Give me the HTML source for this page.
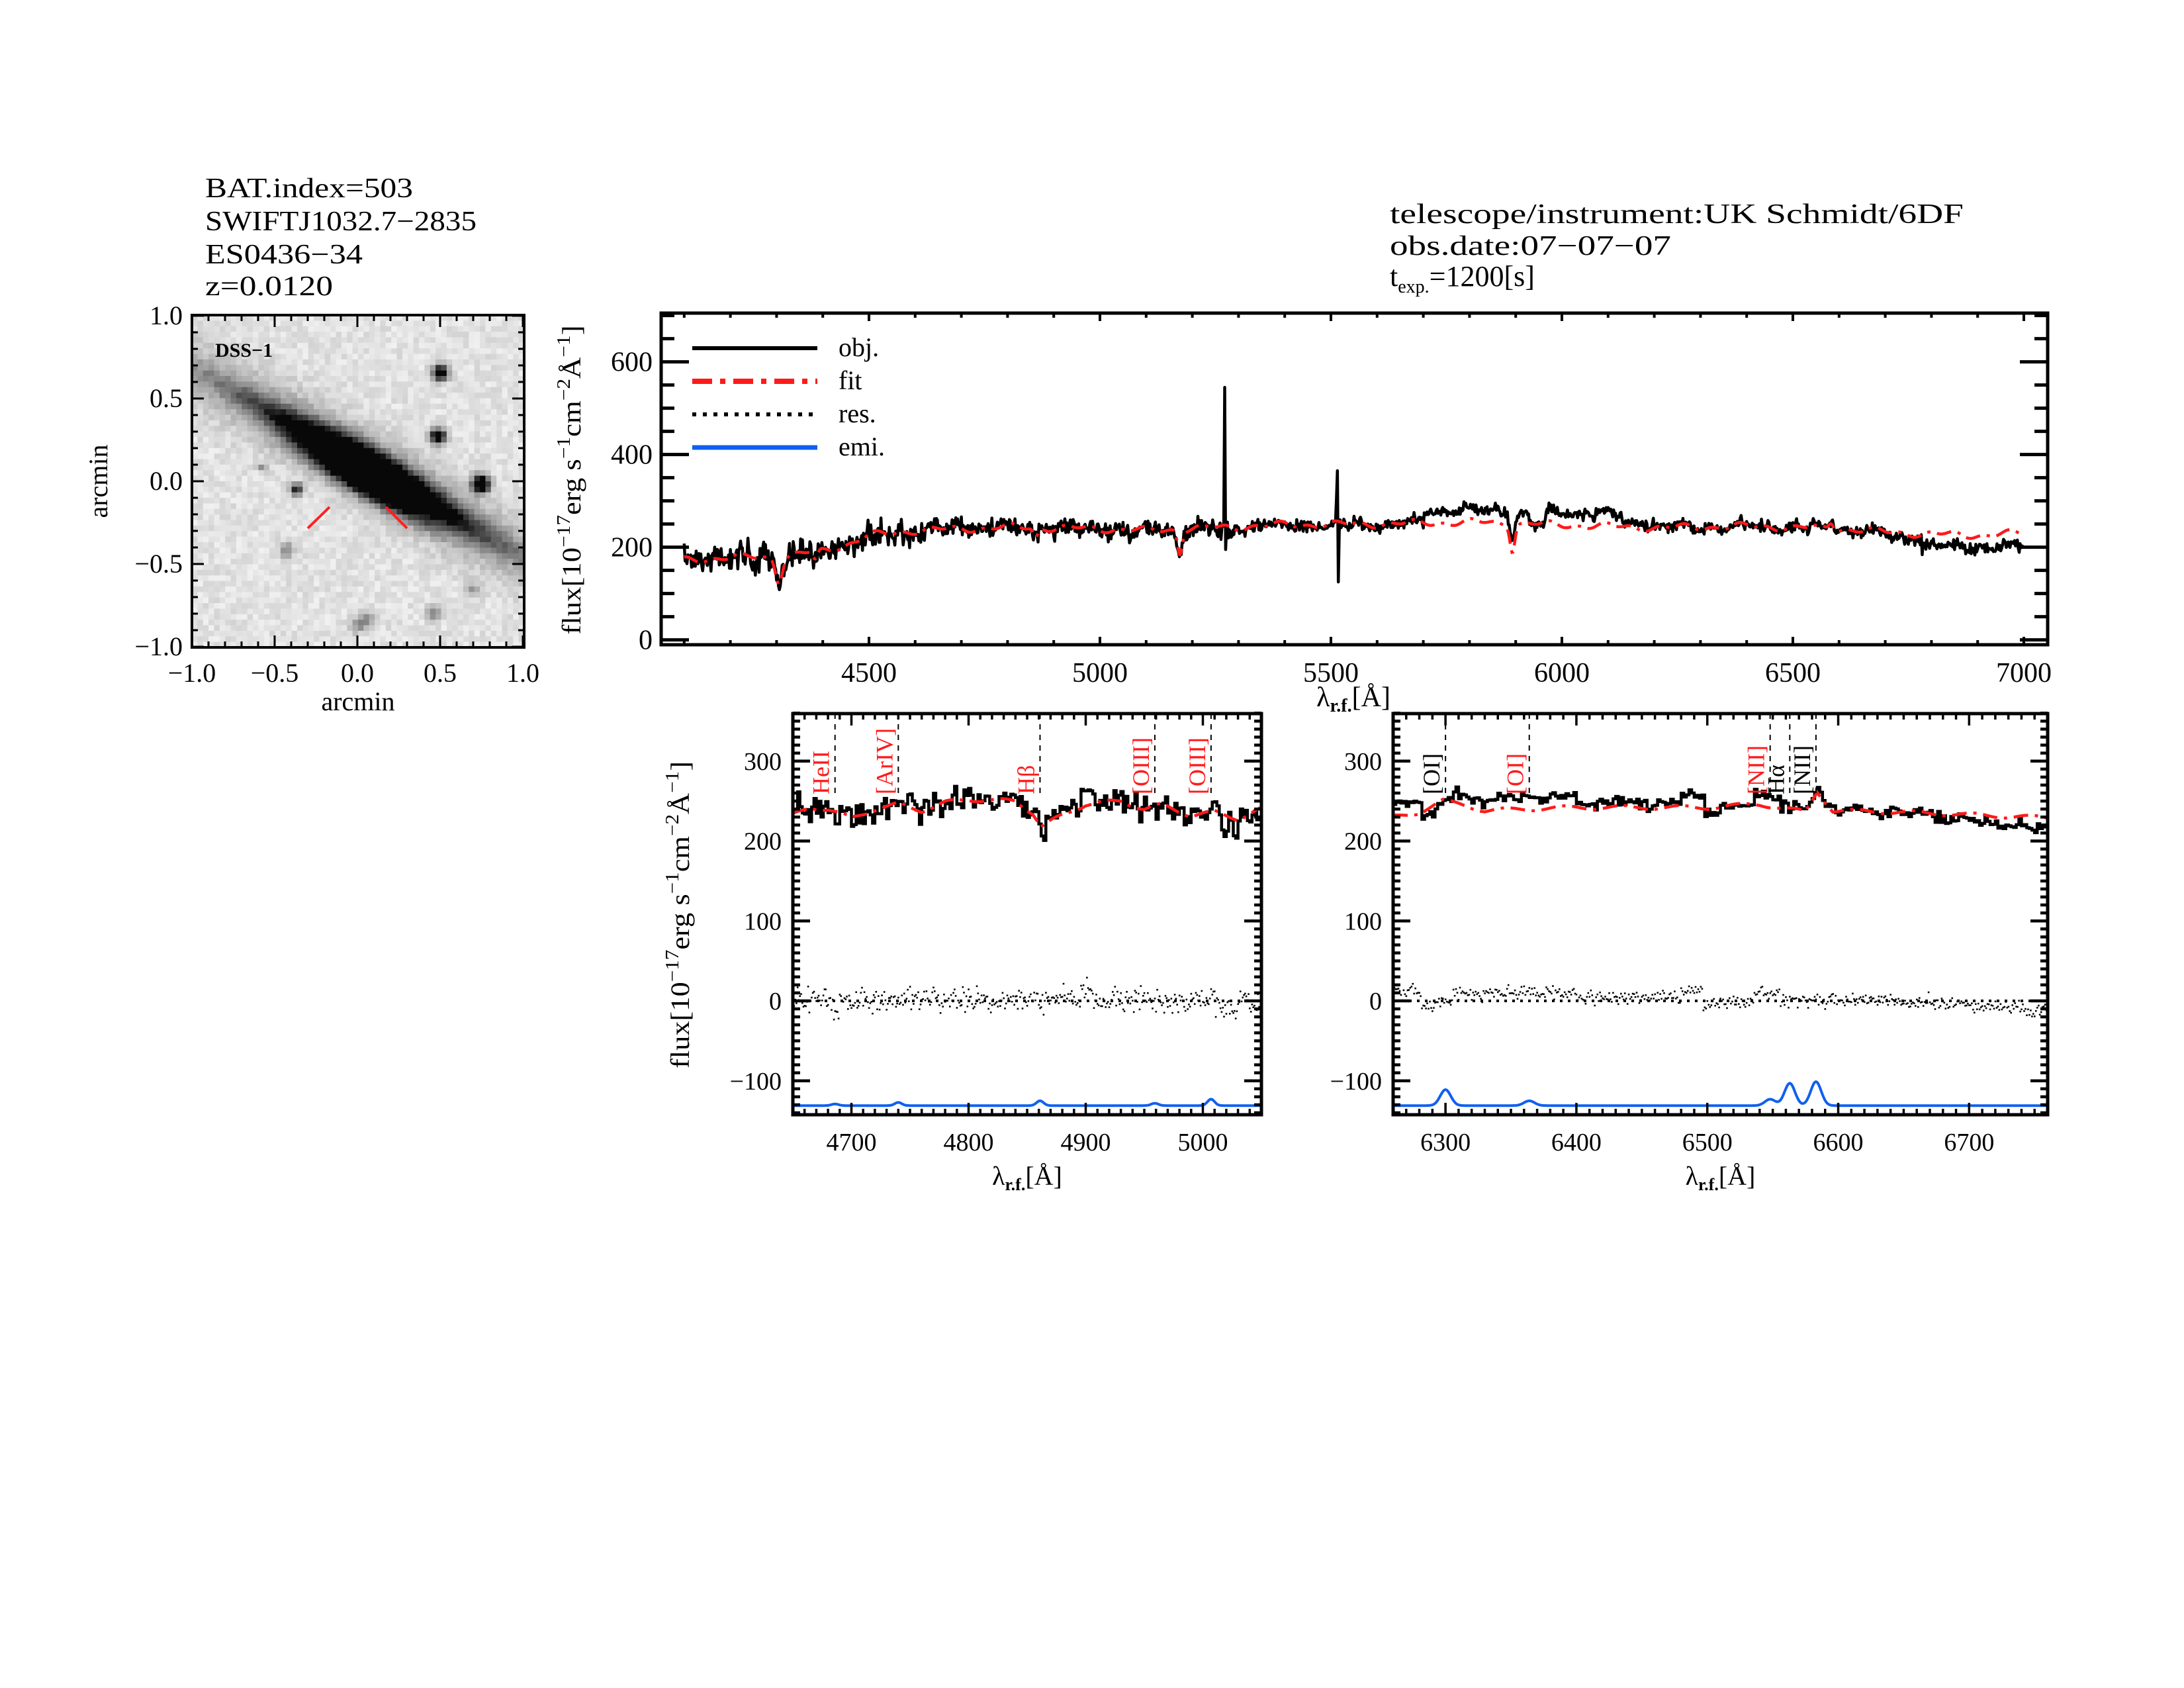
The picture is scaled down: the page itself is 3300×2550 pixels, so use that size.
<!DOCTYPE html>
<html><head><meta charset="utf-8"><style>
html,body{margin:0;padding:0;background:#fff}
svg{display:block}
text{font-family:"Liberation Serif",serif;fill:#000}
</style></head><body>
<svg id="s" xmlns="http://www.w3.org/2000/svg" width="3300" height="2550" viewBox="0 0 3300 2550">
<rect width="3300" height="2550" fill="#fff"/>
<text x="310" y="298" font-size="42" textLength="314" lengthAdjust="spacingAndGlyphs">BAT.index=503</text>
<text x="310" y="348" font-size="42" textLength="410" lengthAdjust="spacingAndGlyphs">SWIFTJ1032.7−2835</text>
<text x="310" y="398" font-size="42" textLength="238" lengthAdjust="spacingAndGlyphs">ES0436−34</text>
<text x="310" y="446" font-size="42" textLength="193" lengthAdjust="spacingAndGlyphs">z=0.0120</text>
<text x="2100" y="337" font-size="42" textLength="867" lengthAdjust="spacingAndGlyphs">telescope/instrument:UK Schmidt/6DF</text>
<text x="2100" y="385" font-size="42" textLength="425" lengthAdjust="spacingAndGlyphs">obs.date:07−07−07</text>
<text x="2100" y="432" font-size="44">t<tspan font-size="28" dy="10">exp.</tspan><tspan dy="-10">=1200[s]</tspan></text>
<g id="img"></g>
<g id="g"></g>
</svg>
<script>
(function(){
var s=0x12345;function rnd(){s|=0;s=s+0x6D2B79F5|0;var t=Math.imul(s^s>>>15,1|s);t=t+Math.imul(t^t>>>7,61|t)^t;return((t^t>>>14)>>>0)/4294967296;}
function gn(){return (rnd()+rnd()+rnd()-1.5)*1.4;}
var out=[];
function P(d,st){out.push('<path d="'+d+'" fill="none" '+st+'/>');}
function L(x1,y1,x2,y2,w,c){out.push('<line x1="'+x1+'" y1="'+y1+'" x2="'+x2+'" y2="'+y2+'" stroke="'+(c||'#000')+'" stroke-width="'+w+'"/>');}
function T(x,y,t,fs,anc,extra){out.push('<text x="'+x+'" y="'+y+'" font-size="'+fs+'" text-anchor="'+(anc||'start')+'" '+(extra||'')+'>'+t+'</text>');}
function interp(k,x){if(x<=k[0][0])return k[0][1];for(var i=1;i<k.length;i++){if(x<=k[i][0]){var a=k[i-1],b=k[i];return a[1]+(b[1]-a[1])*(x-a[0])/(b[0]-a[0]);}}return k[k.length-1][1];}
function G(x,c,w,a){return a*Math.exp(-0.5*(x-c)*(x-c)/(w*w));}
function path(pts){var d='';for(var i=0;i<pts.length;i++){d+=(i?'L':'M')+pts[i][0].toFixed(1)+' '+pts[i][1].toFixed(1);}return d;}

/* ---------- image panel ---------- */
var im=[];var X0=290,Y0=476,W=502,N=60,ps=W/N;
var ang=29.9*Math.PI/180,ca=Math.cos(ang),sa=Math.sin(ang);
var stars=[[375,87,1.3,8],[372,183,1.3,8],[437,255,1.4,9],[158,263,1.0,6],[143,355,0.4,8],[365,450,0.45,7],[422,415,0.3,8],[265,460,0.35,9],[250,470,0.3,8],[105,230,0.3,5]];
for(var i=0;i<N;i++)for(var j=0;j<N;j++){
 var px=(j+0.5)*ps,py=(i+0.5)*ps;
 var dx=px-267,dy=py-232;
 var u=dx*ca+dy*sa,v=-dx*sa+dy*ca;
 var d=0;
 d+=1.6*Math.exp(-0.5*(u*u/(75*75)+v*v/(18*18)));
 d+=0.7*Math.exp(-0.5*(u*u/(170*170)+v*v/(12*12)));
 d+=0.4*Math.exp(-0.5*(u*u/(260*260)+v*v/(32*32)));
 d+=0.7*Math.exp(-0.5*((u-10)*(u-10)/(70*70)+(v-24)*(v-24)/(12*12)));
 d-=0.45*Math.exp(-0.5*((u-30)*(u-30)/(50*50)+(v-16)*(v-16)/(5*5)));
 for(var k=0;k<stars.length;k++){var st=stars[k];var r2=(px-st[0])*(px-st[0])+(py-st[1])*(py-st[1]);d+=st[2]*Math.exp(-0.5*r2/(st[3]*st[3]));}
 if(d<0)d=0;
 var g=226-d*230+ (rnd()-0.5)*30;
 g=Math.max(8,Math.min(250,Math.round(g)));
 im.push('<rect x="'+(X0+j*ps).toFixed(2)+'" y="'+(Y0+i*ps).toFixed(2)+'" width="'+(ps+0.4).toFixed(2)+'" height="'+(ps+0.4).toFixed(2)+'" fill="rgb('+g+','+g+','+g+')"/>');
}
document.getElementById('img').innerHTML=im.join('');
L(465,798,498,766,4,'#ff2020');L(583,766,615,798,4,'#ff2020');
T(325,539,'DSS−1',30,'start','font-weight="bold"');
out.push('<rect x="290" y="476" width="502" height="502" fill="none" stroke="#000" stroke-width="4"/>');
for(var t=-1;t<=1.001;t+=0.1){var x=540+t*250,y=727-t*250;var maj=Math.abs(t*2-Math.round(t*2))<0.01;var l=maj?18:9;
 L(x,978,x,978-l,3);L(x,476,x,476+l,3);L(290,y,290+l,y,3);L(792,y,792-l,y,3);}
[-1,-0.5,0,0.5,1].forEach(function(t){var lab=(t<0?'−':'')+Math.abs(t).toFixed(1);
 T(540+t*250,1030,lab,40,'middle');T(276,727-t*250+13,lab,40,'end');});
T(541,1073,'arcmin',40,'middle');
T(162,727,'arcmin',40,'middle','transform="rotate(-90 162 727)"');

/* ---------- top spectrum ---------- */
function XT(l){return 1313+(l-4500)*0.698;} function YT(f){return 966.6-f*0.7;}
var fk=[[4100,172],[4200,178],[4300,178],[4400,192],[4450,205],[4500,225],[4600,236],[4800,243],[5000,240],[5100,236],[5200,240],[5400,248],[5600,250],[5800,254],[6000,248],[6200,242],[6400,245],[6600,240],[6700,233],[6800,228],[6900,226],[7000,230]];
function fitT(l){var f=interp(fk,l)+5*Math.sin(l/23)+4*Math.sin(l/9.3);
 f+=G(l,4305,7,-50)+G(l,5173,5,-50)+G(l,5893,5,-55)+G(l,4861,5,-20)+G(l,4384,5,-20)+G(l,6583,5,15);return f;}
var po=[],pf=[];
for(var l=4100;l<=7000;l+=2){var f=fitT(l);
 var dl=0;if(l>5700&&l<5930)dl+=25;if(l>5965&&l<6130)dl+=26;if(l>=6130&&l<6200)dl+=10;if(l>6700&&l<6780)dl-=8;if(l>=6780)dl-=26;
 var na=l<4600?20:(l<5300?16:9);var o=f+dl+gn()*na;
 if(l==5270)o=545;if(l==5272)o=195;if(l==5512)o=305;if(l==5514)o=365;if(l==5516)o=125;if(l==5518)o=235;
 po.push([XT(l),YT(o)]);pf.push([XT(l),YT(f)]);}
P(path(po),'stroke="#000" stroke-width="4.5" stroke-linejoin="round"');
P(path(pf),'stroke="#ff1a1a" stroke-width="4.5" stroke-dasharray="22 10 5 10"');
out.push('<rect x="999" y="473" width="2095" height="501" fill="none" stroke="#000" stroke-width="5"/>');
for(var l=4100;l<=7000;l+=100){var x=XT(l);var maj=l%500==0;L(x,974,x,974-(maj?12:7),4);L(x,473,x,473+(maj?12:7),4);}
for(var f=0;f<=700;f+=50){var y=YT(f);var maj=f%200==0;var ln=maj?42:20;L(999,y,999+ln,y,5);L(3094,y,3094-ln,y,5);}
for(var l=4500;l<=7000;l+=500)T(XT(l),1030,l,42,'middle');
[0,200,400,600].forEach(function(f){T(986,YT(f)+14,f,42,'end');});
L(1046,526,1235,526,6);
out.push('<line x1="1046" y1="576" x2="1235" y2="576" stroke="#ff1a1a" stroke-width="8" stroke-dasharray="30 12 8 12"/>');
out.push('<line x1="1046" y1="626" x2="1235" y2="626" stroke="#000" stroke-width="6" stroke-dasharray="6 10"/>');
L(1046,676,1235,676,7,'#1060f0');
T(1267,538,'obj.',40);T(1267,588,'fit',40);T(1267,638,'res.',40);T(1267,688,'emi.',40);
T(2045,1067,'λ<tspan font-size="28" dy="8" font-weight="bold">r.f.</tspan><tspan dy="-8">[Å]</tspan>',42,'middle');
T(877,725,'flux[10<tspan font-size="28" dy="-16">−17</tspan><tspan dy="16">erg s</tspan><tspan font-size="28" dy="-16">−1</tspan><tspan dy="16">cm</tspan><tspan font-size="28" dy="-16">−2</tspan><tspan dy="16">Å</tspan><tspan font-size="28" dy="-16">−1</tspan><tspan dy="16">]</tspan>',40,'middle','transform="rotate(-90 877 725)" textLength="467" lengthAdjust="spacingAndGlyphs"');

/* ---------- bottom panels ---------- */
function YB(f){return 1512-f*1.2075;}
function panel(x0,x1,l0,l1,fitk,deltaF,na,lines,emis,ticks,rs){
 var sc=(x1-x0)/(l1-l0);function XB(l){return x0+(l-l0)*sc;}
 var ob=[],fb=[],re=[],em=[];
 for(var l=l0;l<=l1;l+=1){var f=interp(fitk,l)+2.5*Math.sin(l/7.1);var o=f+deltaF(l)+gn()*na;
  ob.push([XB(l),YB(o)]);fb.push([XB(l),YB(f)]);re.push([XB(l),YB((o-f)*rs+gn()*4)]);
  var e=-131;emis.forEach(function(q){e+=G(l,q[0],q[1],q[2]);});em.push([XB(l),YB(e)]);}
 var d='';for(var i=0;i<ob.length;i+=2){var p=ob[i];d+=(i?'L'+p[0].toFixed(1)+' '+ob[i-2][1].toFixed(1)+'L':'M')+p[0].toFixed(1)+' '+p[1].toFixed(1);}
 P(d,'stroke="#000" stroke-width="4.5"');
 P(path(fb),'stroke="#ff1a1a" stroke-width="4.5" stroke-dasharray="22 10 5 10"');
 var rd='';for(var i=0;i<re.length;i++){rd+='<rect x="'+(re[i][0]-1.2).toFixed(1)+'" y="'+(re[i][1]-1.2).toFixed(1)+'" width="2.6" height="2.6" fill="#000"/>';}
 out.push(rd);
 out.push('<line x1="'+x0+'" y1="'+YB(0)+'" x2="'+x1+'" y2="'+YB(0)+'" stroke="#000" stroke-width="4" stroke-dasharray="4 8"/>');
 P(path(em),'stroke="#1060f0" stroke-width="4"');
 lines.forEach(function(q){var x=XB(q[0]);out.push('<line x1="'+x+'" y1="1078" x2="'+x+'" y2="1200" stroke="#000" stroke-width="2" stroke-dasharray="8 8"/>');
  T(x-9,1200,q[1],36,'start','style="fill:'+q[2]+'" transform="rotate(-90 '+(x-9)+' 1200)"');});
 out.push('<rect x="'+x0+'" y="1078" width="'+(x1-x0)+'" height="606" fill="none" stroke="#000" stroke-width="5"/>');
 for(var l=Math.ceil(l0/10)*10;l<=l1;l+=10){var x=XB(l);var maj=l%100==0;var ln=maj?18:9;L(x,1684,x,1684-ln,3.5);L(x,1078,x,1078+ln,3.5);}
 for(var f=-140;f<=360;f+=10){var y=YB(f);var maj=f%100==0;var ln=maj?26:11;L(x0,y,x0+ln,y,4.5);L(x1,y,x1-ln,y,4.5);}
 ticks.forEach(function(l){T(XB(l),1738,l,38,'middle');});
 [300,200,100,0,-100].forEach(function(f){T(x0-17,YB(f)+13,(f<0?'−':'')+Math.abs(f),38,'end');});
 T((x0+x1)/2,1790,'λ<tspan font-size="26" dy="8" font-weight="bold">r.f.</tspan><tspan dy="-8">[Å]</tspan>',40,'middle');
}
panel(1198,1906,4650,5050,
 [[4650,232],[4665,242],[4680,240],[4700,228],[4720,240],[4740,246],[4760,238],[4780,248],[4800,252],[4840,250],[4855,235],[4862,218],[4880,232],[4900,246],[4930,250],[4950,240],[4965,245],[4990,232],[5010,236],[5030,228],[5050,240]],
 function(l){var d=0;if(l>4895&&l<4905)d+=20;if(l>4680&&l<4690)d-=15;if(l>5015&&l<5030)d-=15;return d;},
 12,
 [[4686,'HeII','#ff1a1a'],[4740,'[ArIV]','#ff1a1a'],[4861,'Hβ','#ff1a1a'],[4959,'[OIII]','#ff1a1a'],[5007,'[OIII]','#ff1a1a']],
 [[4686,3,2],[4740,3,4],[4861,3,6],[4959,3,3],[5007,3,8]],
 [4700,4800,4900,5000],0.8);
panel(2105,3094,6260,6760,
 [[6260,230],[6280,236],[6298,250],[6315,245],[6330,238],[6360,240],[6400,242],[6500,242],[6540,246],[6555,242],[6575,236],[6584,262],[6596,238],[6650,236],[6760,229]],
 function(l){var d=0;if(l<6282)d+=15;if(l>=6282&&l<6292)d-=8;if(l>6305&&l<6400)d+=13;if(l>=6400&&l<6480)d+=5;if(l>=6480&&l<6497)d+=16;if(l>=6497&&l<6510)d-=5;if(l>6535&&l<6556)d+=13;if(l>6556&&l<6578)d+=3;if(l>6650)d-=(l-6650)/110*14;return d;},
 5,
 [[6300,'[OI]','#000'],[6364,'[OI]','#ff1a1a'],[6548,'[NII]','#ff1a1a'],[6563,'Hα','#000'],[6583,'[NII]','#000']],
 [[6300,4,20],[6364,4,6],[6548,4,8],[6563,4,28],[6583,4,30]],
 [6300,6400,6500,6600,6700],0.8);
T(1041,1382,'flux[10<tspan font-size="28" dy="-16">−17</tspan><tspan dy="16">erg s</tspan><tspan font-size="28" dy="-16">−1</tspan><tspan dy="16">cm</tspan><tspan font-size="28" dy="-16">−2</tspan><tspan dy="16">Å</tspan><tspan font-size="28" dy="-16">−1</tspan><tspan dy="16">]</tspan>',40,'middle','transform="rotate(-90 1041 1382)" textLength="464" lengthAdjust="spacingAndGlyphs"');
document.getElementById('g').innerHTML=out.join('');
})();
</script>
</body></html>
